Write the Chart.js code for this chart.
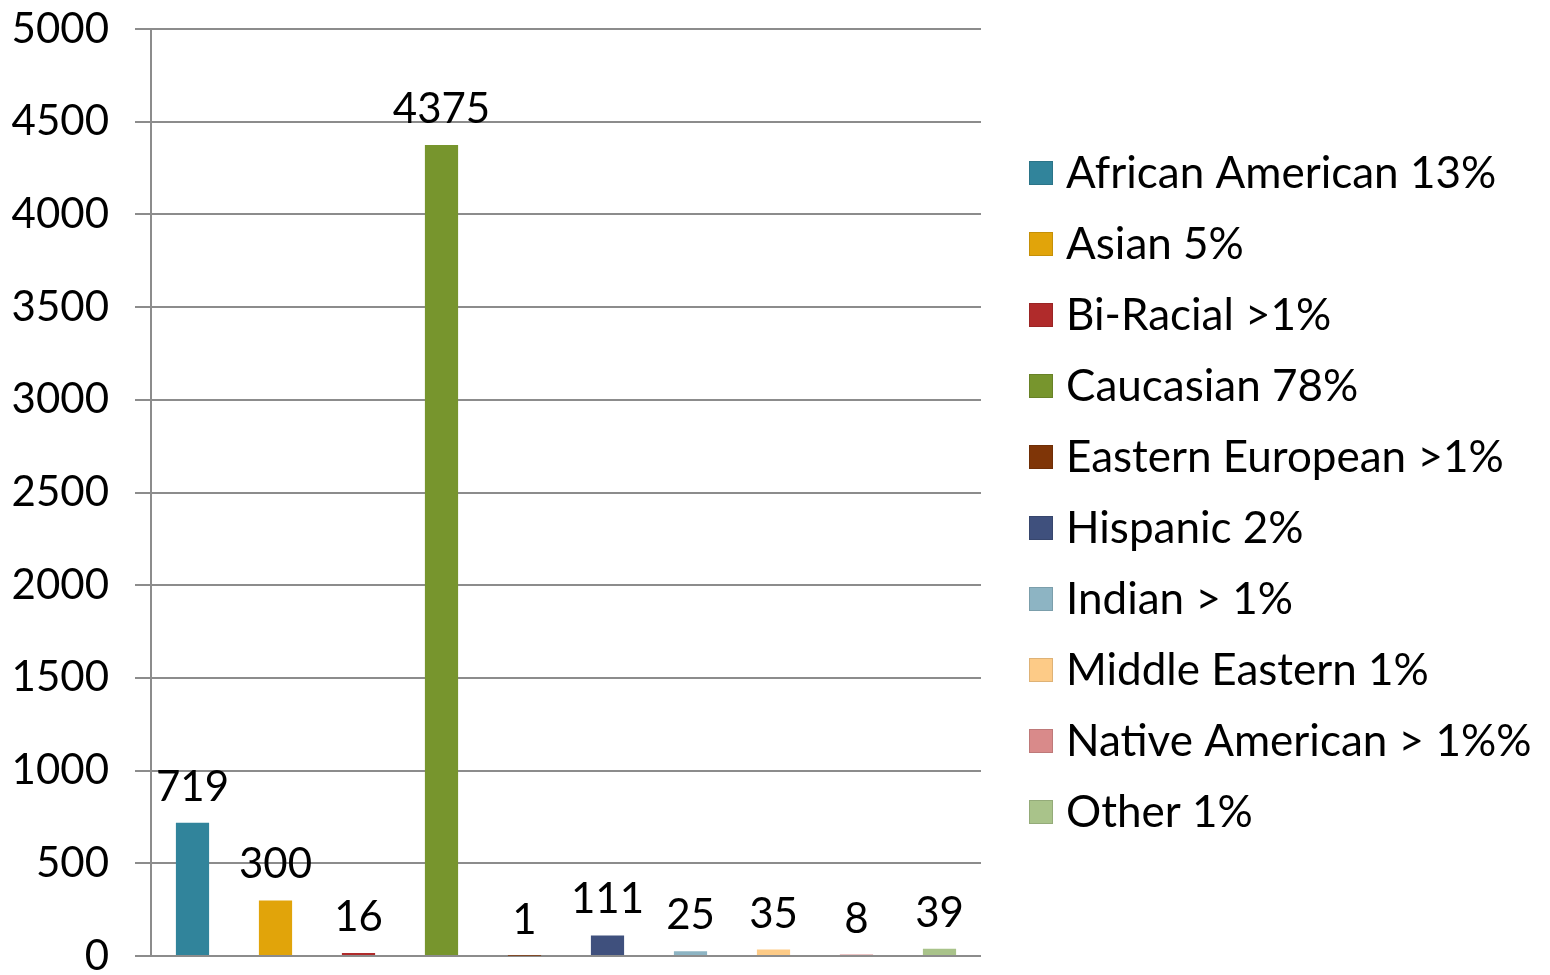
<!DOCTYPE html>
<html>
<head>
<meta charset="utf-8">
<script src="https://cdn.jsdelivr.net/npm/chart.js@4.4.1/dist/chart.umd.min.js"></script>
<style>
html,body{margin:0;padding:0;background:#fff;}
#wrap{width:1550px;height:975px;position:relative;}
</style>
</head>
<body>
<div id="wrap"><canvas id="c" width="1550" height="975"></canvas></div>
<script>
const seriesNames = ["African American 13%","Asian 5%","Bi-Racial >1%","Caucasian 78%","Eastern European >1%","Hispanic 2%","Indian > 1%","Middle Eastern 1%","Native American > 1%%","Other 1%"];
const seriesValues = [719, 300, 16, 4375, 1, 111, 25, 35, 8, 39];
const seriesColors = ["#31849B","#E1A40A","#B02B2B","#77952D","#7F3507","#3F507D","#8DB4C3","#FDCB87","#D98A8A","#A9C38A"];
const categories = [""];
const yTicks = [0,500,1000,1500,2000,2500,3000,3500,4000,4500,5000];

const FONT = "Lato, 'Open Sans', sans-serif";

const labelPlugin = {
  id: 'valueLabels',
  afterDatasetsDraw(chart) {
    const ctx = chart.ctx;
    ctx.save();
    ctx.font = "42px " + FONT;
    ctx.fillStyle = "#000";
    ctx.textAlign = "center";
    ctx.textBaseline = "alphabetic";
    chart.data.datasets.forEach((ds, i) => {
      const meta = chart.getDatasetMeta(i);
      meta.data.forEach((bar, j) => {
        ctx.fillText(String(ds.data[j]), bar.x, bar.y - 22);
      });
    });
    ctx.restore();
  }
};

const legendPlugin = {
  id: 'sideLegend',
  afterDraw(chart) {
    const ctx = chart.ctx;
    const x0 = chart.chartArea.right + 48;
    const yc0 = 173, step = 71, box = 24;
    ctx.save();
    ctx.font = "44px " + FONT;
    ctx.textAlign = "left";
    ctx.textBaseline = "middle";
    chart.data.datasets.forEach((ds, i) => {
      const yc = yc0 + step * i;
      ctx.fillStyle = ds.backgroundColor;
      ctx.fillRect(x0, yc - box / 2, box, box);
      ctx.strokeStyle = 'rgba(0,0,0,0.12)';
      ctx.lineWidth = 1;
      ctx.strokeRect(x0 + 0.5, yc - box / 2 + 0.5, box - 1, box - 1);
      ctx.fillStyle = '#000';
      ctx.fillText(ds.label, x0 + 37, yc + 1);
    });
    ctx.restore();
  }
};

new Chart(document.getElementById('c'), {
  type: 'bar',
  data: {
    labels: categories,
    datasets: seriesNames.map((n, i) => ({
      label: n,
      data: [seriesValues[i]],
      backgroundColor: seriesColors[i],
      borderWidth: 0
    }))
  },
  options: {
    responsive: false,
    animation: false,
    devicePixelRatio: 1,
    categoryPercentage: 1,
    barPercentage: 0.4,
    layout: { padding: { top: 29, bottom: 19, left: 0, right: 569 } },
    plugins: {
      tooltip: { enabled: false },
      legend: { display: false }
    },
    scales: {
      x: {
        display: false
      },
      y: {
        min: 0,
        max: 5000,
        afterBuildTicks(scale) { scale.ticks = yTicks.map(v => ({ value: v })); },
        afterFit(scale) { scale.width = 151; scale.paddingTop = 0; scale.paddingBottom = 0; },
        grid: { color: '#8c8c8c', lineWidth: 2, tickLength: 16 },
        border: { color: '#8c8c8c', width: 2 },
        ticks: {
          font: { size: 42, family: FONT, lineHeight: 1 },
          color: '#000',
          padding: 26,
          callback: v => String(v)
        }
      }
    }
  },
  plugins: [labelPlugin, legendPlugin]
});
</script>
</body>
</html>
